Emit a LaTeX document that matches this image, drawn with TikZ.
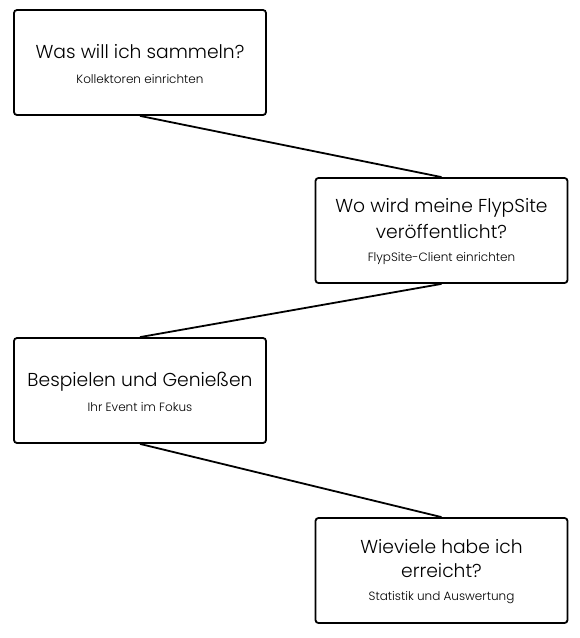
\documentclass[tikz,border=0pt]{standalone}
\usepackage{fontspec}
\setmainfont{Poppins}[UprightFont={* Light}]
\begin{document}
\begin{tikzpicture}[x=1pt,y=-1pt,
  stepbox/.style={draw=black, line width=1.8pt, rounded corners=3pt,
    minimum width=252pt, minimum height=105pt, inner sep=0pt},
  steptext/.style={align=center, inner sep=0pt, font=\fontsize{18.7}{25}\selectfont},
  link/.style={draw=black, line width=1.8pt}]
\useasboundingbox (0,0) rectangle (580,638);
\newcommand{\subt}[1]{{\fontsize{12}{14}\selectfont #1}}
\node[stepbox] (a) at (140,62.5) {};
\node[stepbox] (b) at (441.5,230.5) {};
\node[stepbox] (c) at (140,390.5) {};
\node[stepbox] (d) at (441.5,570.5) {};
\node[steptext] (at) at ([yshift=-1.5pt]a.center) {Was will ich sammeln?\\[0pt]\subt{Kollektoren einrichten}};
\node[steptext] (bt) at ([yshift=-1pt]b.center) {Wo wird meine FlypSite\\[1pt] veröffentlicht?\\[-2pt]\subt{FlypSite-Client einrichten}};
\node[steptext] (ct) at ([yshift=-1.5pt]c.center) {Bespielen und Genießen\\[0pt]\subt{Ihr Event im Fokus}};
\node[steptext] (dt) at ([yshift=-1pt]d.center) {Wieviele habe ich\\[-1pt] erreicht?\\[-2pt]\subt{Statistik und Auswertung}};
\draw[link] (a.south) -- (b.north);
\draw[link] (b.south) -- (c.north);
\draw[link] (c.south) -- (d.north);
\end{tikzpicture}
\end{document}
